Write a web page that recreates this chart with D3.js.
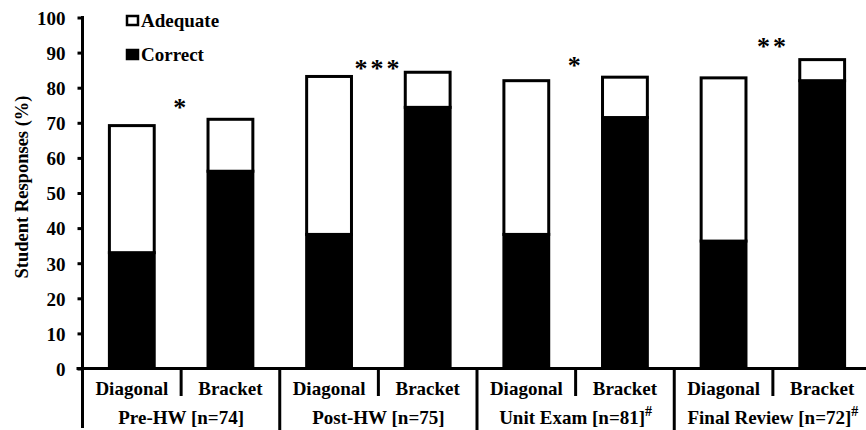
<!DOCTYPE html>
<html><head><meta charset="utf-8">
<script src="https://cdn.jsdelivr.net/npm/d3@7"></script>
<style>body{margin:0;background:#fff}svg{display:block}text{font-family:"Liberation Serif","Times New Roman",serif;font-weight:bold;fill:#000}</style>
</head><body><svg id="c" width="866" height="430"></svg>
<script>
const groups = ["Pre-HW [n=74]", "Post-HW [n=75]", "Unit Exam [n=81]", "Final Review [n=72]"];
const groupSup = ["", "", "#", "#"];
const methods = ["Diagonal", "Bracket"];
const correct  = [33, 56.2, 38.2, 74.4, 38.2, 71.5, 36.3, 82];
const adequate = [36.2, 14.8, 45, 10, 43.8, 11.5, 46.5, 6];
const stars = ["*", "***", "*", "**"];
const yTicks = [0,10,20,30,40,50,60,70,80,90,100];

const svg = d3.select("#c");
const W = 866, H = 430;
const x0 = 82.5, yTop = 17.5, yBot = 368.5;
const keys = d3.range(8);
const x = d3.scaleBand().domain(keys).range([x0, 871.5]).paddingInner(0.515).paddingOuter(0.2575);
const y = d3.scaleLinear().domain([0,100]).range([yBot, yTop]);

const data = keys.map(i => ({i, correct: correct[i], adequate: adequate[i]}));
const stacked = d3.stack().keys(["correct","adequate"])(data);

// bars
svg.append("g").selectAll("g").data(stacked).join("g")
  .attr("fill", d => d.key === "correct" ? "#000" : "#fff")
  .selectAll("rect").data(d => d).join("rect")
  .attr("x", d => x(d.data.i) + 1.5)
  .attr("width", x.bandwidth() - 3)
  .attr("y", d => y(d[1]))
  .attr("height", d => y(d[0]) - y(d[1]))
  .attr("stroke", "#000").attr("stroke-width", 3);

// y axis
const yAxis = svg.append("g").attr("transform", `translate(${x0},0)`)
  .call(d3.axisLeft(y).tickValues(yTicks).tickSize(5).tickPadding(12).tickFormat(d3.format("d")));
yAxis.select(".domain").remove();
yAxis.selectAll(".tick line").attr("stroke", "#000").attr("stroke-width", 3);
yAxis.selectAll(".tick text").style("font-size", "19px").attr("dy", "0.36em");
svg.append("line").attr("x1", x0).attr("x2", x0).attr("y1", yTop - 1.5).attr("y2", 428)
  .attr("stroke", "#000").attr("stroke-width", 3);
svg.append("line").attr("x1", x0 - 6).attr("x2", W).attr("y1", yBot).attr("y2", yBot)
  .attr("stroke", "#000").attr("stroke-width", 3);

// y label
svg.append("text").attr("transform", `translate(22,${(yTop+yBot)/2 - 6}) rotate(-90)`)
  .attr("text-anchor", "middle").attr("dy", "0.35em").style("font-size", "18.5px")
  .text("Student Responses (%)");

// separators
const step = x.step();
const bound = k => x0 + x.paddingOuter()*step*0 + (x.range()[0]) - x0 + k*step + (x(0) - x.range()[0] - x.paddingOuter()*step) ;
keys.slice(1).forEach(k => {
  const bx = x(k) - x.paddingInner()*step/2 - x.bandwidth()*0 ;
  const xx = x(k) - (step - x.bandwidth())/2;
  svg.append("line").attr("x1", xx).attr("x2", xx).attr("y1", yBot)
    .attr("y2", k % 2 === 0 ? 430 : 396).attr("stroke", "#000").attr("stroke-width", 3);
});

// method labels
svg.append("g").selectAll("text").data(keys).join("text")
  .attr("x", i => x(i) + x.bandwidth()/2).attr("y", 395)
  .attr("text-anchor", "middle").style("font-size", "19px")
  .text(i => methods[i % 2]);

// group labels
const gl = svg.append("g").selectAll("text").data(groups).join("text")
  .attr("x", (g, j) => x(2*j+1) - (step - x.bandwidth())/2)
  .attr("y", 424).attr("text-anchor", "middle").style("font-size", "19px");
gl.append("tspan").text(d => d);
gl.append("tspan").attr("dy", -8).style("font-size", "14px").text((d, j) => groupSup[j]);

// stars
const starY = [104, 65, 62, 43];
svg.append("g").selectAll("text").data(stars).join("text")
  .attr("x", (s, j) => x(2*j+1) - (step - x.bandwidth())/2)
  .attr("y", (s, j) => starY[j] + 12)
  .attr("text-anchor", "middle").style("font-size", "26px").style("letter-spacing", "3px")
  .text(d => d);

// legend
const legend = [{label:"Adequate", fill:"#fff", y:15}, {label:"Correct", fill:"#000", y:49}];
const lg = svg.append("g").selectAll("g").data(legend).join("g")
  .attr("transform", d => `translate(126,${d.y})`);
lg.append("rect").attr("x", 1).attr("y", 1).attr("width", 11).attr("height", 9)
  .attr("fill", d => d.fill).attr("stroke", "#000").attr("stroke-width", 2.5);
lg.append("text").attr("x", 15).attr("y", 12).style("font-size", "19px").text(d => d.label);
</script></body></html>
